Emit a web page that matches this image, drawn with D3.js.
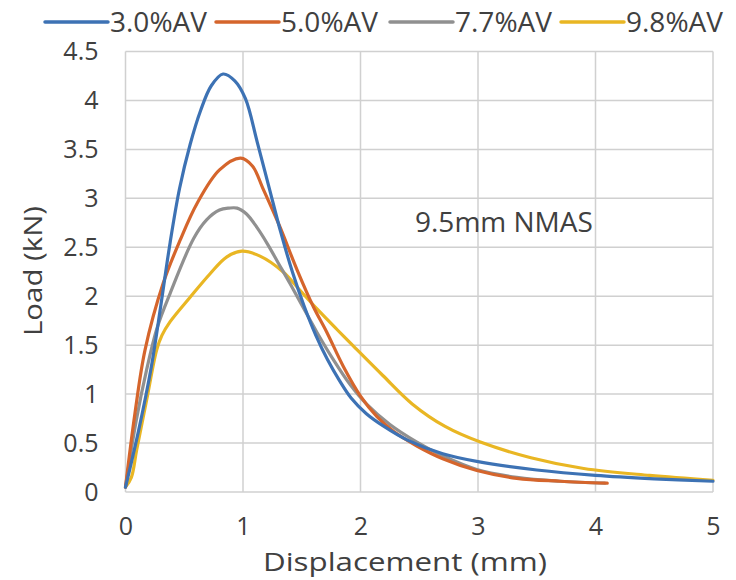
<!DOCTYPE html>
<html>
<head>
<meta charset="utf-8">
<script src="https://cdn.jsdelivr.net/npm/d3@7"></script>
<style>
  html, body { margin: 0; padding: 0; background: #ffffff; }
  svg { display: block; }
  text { font-family: "Open Sans", "DejaVu Sans", sans-serif; fill: #404040; }
</style>
</head>
<body>
<svg id="chart" width="736" height="580"></svg>
<script>
// ---- data ----
const seriesNames = ["3.0%AV", "5.0%AV", "7.7%AV", "9.8%AV"];

const av30X = [0, 0.11, 0.22, 0.30, 0.38, 0.46, 0.55, 0.64, 0.73, 0.83, 0.93, 1.02, 1.12, 1.22, 1.32, 1.42, 1.52, 1.62, 1.72, 1.82, 1.92, 2.05, 2.2, 2.4, 2.7, 3.0, 3.5, 4.0, 4.5, 5.0];
const av30Y = [0.05, 0.62, 1.28, 1.90, 2.55, 3.10, 3.55, 3.90, 4.15, 4.27, 4.20, 4.02, 3.58, 3.12, 2.66, 2.25, 1.90, 1.60, 1.35, 1.14, 0.96, 0.80, 0.67, 0.53, 0.39, 0.31, 0.225, 0.17, 0.135, 0.11];

const av50X = [0, 0.08, 0.166, 0.32, 0.464, 0.61, 0.8, 0.98, 1.08, 1.17, 1.31, 1.46, 1.6, 1.71, 1.855, 2.0, 2.14, 2.28, 2.48, 2.7, 2.99, 3.33, 3.7, 4.1];
const av50Y = [0.05, 0.80, 1.45, 2.13, 2.57, 2.95, 3.29, 3.41, 3.33, 3.10, 2.72, 2.27, 1.89, 1.64, 1.28, 0.98, 0.77, 0.62, 0.47, 0.34, 0.22, 0.14, 0.11, 0.09];

const av77X = [0, 0.09, 0.18, 0.27, 0.38, 0.58, 0.69, 0.8, 0.88, 0.95, 1.03, 1.12, 1.21, 1.30, 1.40, 1.51, 1.63, 1.77, 1.91, 2.05, 2.25, 2.48, 2.7, 2.99, 3.33, 3.7, 4.08];
const av77Y = [0.05, 0.72, 1.25, 1.68, 2.03, 2.59, 2.78, 2.88, 2.90, 2.90, 2.84, 2.70, 2.53, 2.34, 2.13, 1.89, 1.63, 1.35, 1.10, 0.90, 0.69, 0.51, 0.37, 0.23, 0.15, 0.11, 0.09];

const av98X = [0, 0.05, 0.095, 0.18, 0.265, 0.31, 0.38, 0.55, 0.72, 0.86, 0.99, 1.145, 1.34, 1.485, 1.63, 1.80, 1.94, 2.19, 2.44, 2.72, 3.02, 3.45, 3.9, 4.46, 5.0];
const av98Y = [0.05, 0.15, 0.43, 0.94, 1.45, 1.60, 1.74, 1.99, 2.23, 2.40, 2.46, 2.41, 2.25, 2.06, 1.87, 1.66, 1.49, 1.19, 0.90, 0.67, 0.51, 0.35, 0.24, 0.17, 0.12];

const xTicks = [0, 1, 2, 3, 4, 5];
const yTicks = [0, 0.5, 1, 1.5, 2, 2.5, 3, 3.5, 4, 4.5];
const xTitle = "Displacement (mm)";
const yTitle = "Load (kN)";
const annotation = "9.5mm NMAS";

// ---- layout ----
const colors = ["#3d72b4", "#d5652c", "#909090", "#e9b623"];
const svg = d3.select("#chart");
const pLeft = 125.5, pRight = 713, pTop = 51.5, pBottom = 492;

const x = d3.scaleLinear().domain([0, 5]).range([pLeft, pRight]);
const y = d3.scaleLinear().domain([0, 4.5]).range([pBottom, pTop]);

// gridlines
const grid = svg.append("g");
grid.selectAll("line.h").data(yTicks).join("line")
  .attr("class", "h")
  .attr("x1", pLeft).attr("x2", pRight)
  .attr("y1", d => y(d)).attr("y2", d => y(d))
  .attr("stroke", "#d0d0d0").attr("stroke-width", 1.5);
grid.selectAll("line.v").data(xTicks).join("line")
  .attr("class", "v")
  .attr("y1", pTop).attr("y2", pBottom)
  .attr("x1", d => x(d)).attr("x2", d => x(d))
  .attr("stroke", "#d0d0d0").attr("stroke-width", 1.5);

// axes (labels only)
const xAxis = svg.append("g").attr("transform", `translate(0,${pBottom})`)
  .call(d3.axisBottom(x).tickValues(xTicks).tickFormat(d3.format("d")).tickSize(0).tickPadding(25));
xAxis.select(".domain").remove();
xAxis.selectAll("text").style("font-size", "25px").attr("fill", "#404040")
  .attr("font-family", "Open Sans");

const yAxis = svg.append("g").attr("transform", `translate(${pLeft},0)`)
  .call(d3.axisLeft(y).tickValues(yTicks).tickFormat(d => String(d)).tickSize(0).tickPadding(27));
yAxis.select(".domain").remove();
yAxis.selectAll("text").style("font-size", "25px").attr("fill", "#404040")
  .attr("font-family", "Open Sans");

// lines
const seriesData = [
  d3.zip(av30X, av30Y), d3.zip(av50X, av50Y), d3.zip(av77X, av77Y), d3.zip(av98X, av98Y)
];
const line = d3.line().x(d => x(d[0])).y(d => y(d[1])).curve(d3.curveCatmullRom.alpha(0.5));
const drawOrder = [3, 2, 1, 0];
svg.append("g").selectAll("path").data(drawOrder).join("path")
  .attr("d", i => line(seriesData[i]))
  .attr("fill", "none")
  .attr("stroke", i => colors[i])
  .attr("stroke-width", 3.2)
  .attr("stroke-linejoin", "round")
  .attr("stroke-linecap", "round");

// titles
svg.append("text").attr("x", 405).attr("y", 571).attr("text-anchor", "middle")
  .attr("textLength", 284).attr("lengthAdjust", "spacingAndGlyphs")
  .style("font-size", "26px").text(xTitle);
svg.append("text").attr("transform", "translate(42,271) rotate(-90)").attr("text-anchor", "middle")
  .attr("textLength", 130).attr("lengthAdjust", "spacingAndGlyphs")
  .style("font-size", "26px").text(yTitle);
svg.append("text").attr("x", 415).attr("y", 232).style("font-size", "28px").text(annotation);

// legend
const legendLineX = [45, 216, 390, 561];
const legend = svg.append("g");
seriesNames.forEach((name, i) => {
  legend.append("line").attr("x1", legendLineX[i]).attr("x2", legendLineX[i] + 63)
    .attr("y1", 22).attr("y2", 22).attr("stroke", colors[i]).attr("stroke-width", 3.5)
    .attr("stroke-linecap", "round");
  legend.append("text").attr("x", legendLineX[i] + 65).attr("y", 32)
    .style("font-size", "28px").text(name);
});
</script>
</body>
</html>
